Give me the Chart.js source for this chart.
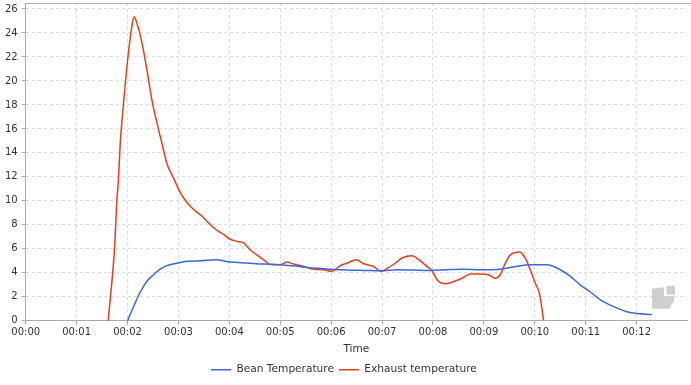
<!DOCTYPE html>
<html>
<head>
<meta charset="utf-8">
<script src="https://cdn.jsdelivr.net/npm/chart.js@4/dist/chart.umd.min.js"></script>
<style>
html,body{margin:0;padding:0;background:#fff;}
#wrap{width:691px;height:385px;}
</style>
</head>
<body>
<div id="wrap"><canvas id="c" width="691" height="385"></canvas></div>
<script>
// time in minutes
const beanTime = [2.0,2.13,2.25,2.38,2.51,2.64,2.77,2.97,3.17,3.43,3.73,4.02,4.34,4.67,5.0,5.33,5.65,5.98,6.31,6.64,6.98,7.29,7.62,7.95,8.27,8.60,8.93,9.26,9.58,9.91,10.24,10.50,10.70,10.89,11.09,11.29,11.55,11.81,12.01,12.30];
const beanTemp = [0,1.3,2.4,3.3,3.84,4.3,4.6,4.8,4.96,5.0,5.1,4.9,4.82,4.73,4.68,4.54,4.4,4.3,4.23,4.2,4.17,4.26,4.23,4.2,4.26,4.3,4.26,4.28,4.48,4.68,4.68,4.26,3.7,3.0,2.4,1.74,1.18,0.76,0.61,0.53];
const exhaustTime = [1.62,1.745,1.79,1.82,1.857,1.92,2.008,2.086,2.13,2.185,2.283,2.381,2.479,2.578,2.676,2.774,2.904,3.035,3.166,3.33,3.46,3.59,3.69,3.886,4.017,4.18,4.28,4.41,4.54,4.67,4.80,5.0,5.13,5.26,5.46,5.65,5.85,6.01,6.18,6.31,6.49,6.64,6.83,6.98,7.13,7.26,7.39,7.59,7.72,7.88,7.98,8.08,8.24,8.41,8.57,8.73,8.93,9.09,9.22,9.32,9.42,9.52,9.70,9.81,9.91,10.01,10.09,10.14,10.17];
const exhaustTemp = [0,6.1,10,11.7,14.8,18.1,22,24.6,25.35,24.8,23.2,20.9,18.4,16.5,14.8,13.1,11.9,10.7,9.86,9.16,8.74,8.18,7.76,7.2,6.8,6.6,6.5,5.9,5.5,5.1,4.7,4.68,4.9,4.73,4.54,4.3,4.26,4.12,4.6,4.8,5.1,4.76,4.54,4.12,4.45,4.8,5.24,5.43,5.1,4.54,4.17,3.42,3.08,3.28,3.55,3.9,3.9,3.84,3.55,3.84,4.8,5.5,5.74,5.24,4.26,3.13,2.3,1.03,0.06];
const seriesNames = ['Bean Temperature','Exhaust temperature'];

const FONT = 'DejaVu Sans';
const toPts = (t, v) => t.map((x, i) => ({x: x, y: v[i]}));

const frame = {
  id: 'frame',
  afterDraw(chart) {
    const {ctx, chartArea: a} = chart;
    ctx.save();
    ctx.strokeStyle = '#b0b0b0';
    ctx.lineWidth = 1;
    ctx.beginPath();
    ctx.moveTo(a.left, Math.round(a.top) + 0.5);
    ctx.lineTo(chart.width, Math.round(a.top) + 0.5);
    ctx.stroke();
    // watermark logo
    ctx.fillStyle = 'rgba(195,195,195,0.8)';
    const bx = a.right - 35, by = a.bottom - 35;
    ctx.beginPath();
    ctx.roundRect(bx + 14.5, by, 8.5, 9, 1.5);
    ctx.fill();
    ctx.beginPath();
    ctx.moveTo(bx, by + 3);
    ctx.lineTo(bx + 12, by + 1.5);
    ctx.lineTo(bx + 12, by + 10.5);
    ctx.lineTo(bx + 22, by + 10.5);
    ctx.lineTo(bx + 22, by + 15);
    ctx.lineTo(bx + 17.5, by + 23);
    ctx.lineTo(bx, by + 23);
    ctx.closePath();
    ctx.fill();
    ctx.restore();
  }
};

new Chart(document.getElementById('c'), {
  type: 'line',
  data: {
    datasets: [
      {label: seriesNames[0], data: toPts(beanTime, beanTemp), borderColor: '#3a6ad6', backgroundColor: '#3a6ad6', borderWidth: 1.5, pointRadius: 0, cubicInterpolationMode: 'monotone', fill: false},
      {label: seriesNames[1], data: toPts(exhaustTime, exhaustTemp), borderColor: '#e2401c', backgroundColor: '#e2401c', borderWidth: 1.5, pointRadius: 0, cubicInterpolationMode: 'monotone', fill: false}
    ]
  },
  options: {
    responsive: false,
    animation: false,
    layout: {padding: {top: 3, right: 4, left: 1, bottom: 0}},
    plugins: {
      legend: {
        position: 'bottom',
        labels: {font: {family: FONT, size: 10.6}, color: '#333', usePointStyle: true, pointStyle: 'line', pointStyleWidth: 20, boxHeight: 10, padding: 5}
      },
      tooltip: {enabled: false}
    },
    scales: {
      x: {
        type: 'linear', min: 0, max: 12.99,
        title: {display: true, text: 'Time', font: {family: FONT, size: 10.5}, color: '#333', padding: {top: 2, bottom: 4}},
        ticks: {stepSize: 1, includeBounds: false, maxRotation: 0, font: {family: FONT, size: 10}, color: '#333', padding: 2,
          callback: v => '00:' + String(v).padStart(2, '0')},
        grid: {color: '#dcdcdc', tickColor: '#aaa', tickLength: 4, tickBorderDash: []},
        border: {color: '#aaa', dash: [3, 3]}
      },
      y: {
        min: 0, max: 26.5,
        afterFit: s => { s.paddingTop = 0; },
        ticks: {stepSize: 2, includeBounds: false, font: {family: FONT, size: 10}, color: '#333', padding: 4},
        grid: {color: '#dcdcdc', tickColor: '#aaa', tickLength: 4, tickBorderDash: []},
        border: {color: '#aaa', dash: [3, 3]}
      }
    }
  },
  plugins: [frame]
});
</script>
</body>
</html>
